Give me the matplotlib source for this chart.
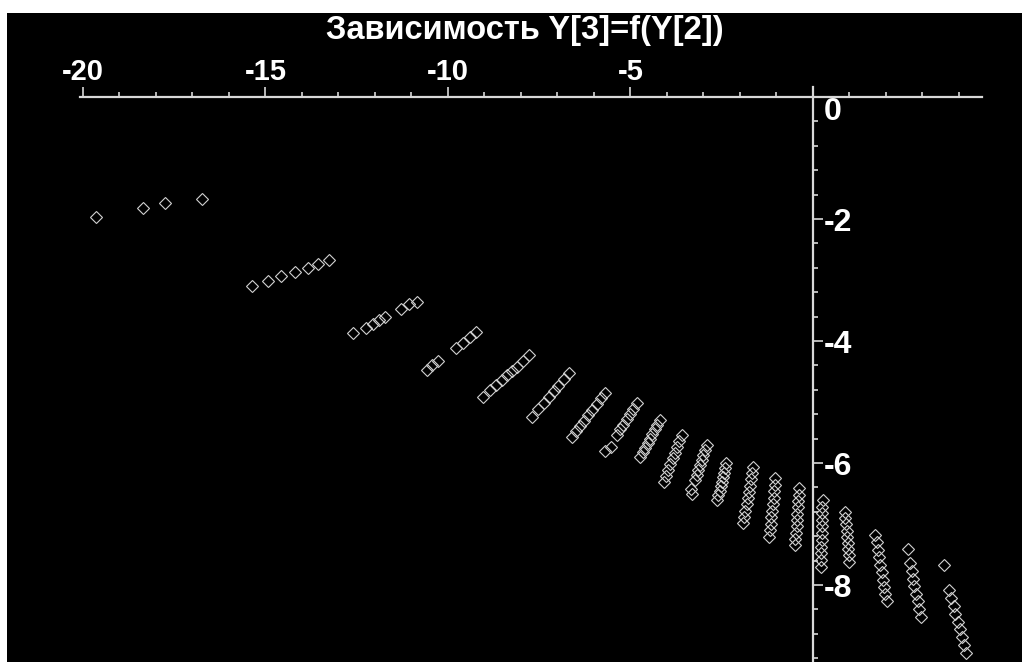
import matplotlib.pyplot as plt
from matplotlib.patches import Rectangle
from matplotlib.ticker import MultipleLocator, FixedLocator

# шрифт: жирный Liberation Sans, запасной DejaVu
plt.rcParams['font.family'] = ['Liberation Sans', 'DejaVu Sans']

title = 'Зависимость Y[3]=f(Y[2])'

# точки Y[2] (ось x) и Y[3] (ось y), по "полоскам" слева направо
y2 = [-19.65, -18.35, -17.76, -16.75,
      -15.37, -14.93, -14.57, -14.20, -13.84, -13.55, -13.25,
      -12.61, -12.25, -12.06, -11.88, -11.73, -11.29, -11.08, -10.84,
      -10.58, -10.44, -10.27, -9.78, -9.58, -9.40, -9.23,
      -9.03, -8.85, -8.68, -8.53, -8.38, -8.25, -8.12, -7.95, -7.77,
      -7.71, -7.53, -7.37, -7.22, -7.10, -6.98, -6.82, -6.68,
      -6.61, -6.49, -6.38, -6.27, -6.16, -6.05, -5.93, -5.81, -5.70,
      -5.70, -5.52, -5.38, -5.29, -5.20, -5.10, -5.01, -4.92, -4.83,
      -4.74, -4.67, -4.60, -4.53, -4.47, -4.40, -4.33, -4.26, -4.19,
      -4.09, -4.03, -3.97, -3.91, -3.84, -3.78, -3.72, -3.66, -3.60,
      -3.33, -3.31, -3.23, -3.19, -3.14, -3.10, -3.05, -3.01, -2.96, -2.91,
      -2.62, -2.59, -2.56, -2.53, -2.49, -2.46, -2.43, -2.40, -2.37,
      -1.91, -1.88, -1.85, -1.82, -1.79, -1.76, -1.73, -1.70, -1.67, -1.64,
      -1.20, -1.18, -1.16, -1.14, -1.12, -1.10, -1.08, -1.07, -1.05, -1.04,
      -0.49, -0.48, -0.47, -0.45, -0.44, -0.43, -0.42, -0.41, -0.39, -0.38,
      0.27, 0.26, 0.26, 0.25, 0.25, 0.24, 0.24, 0.23, 0.23, 0.22, 0.22,
      0.88, 0.89, 0.91, 0.92, 0.94, 0.95, 0.96, 0.98, 0.99,
      1.70, 1.74, 1.77, 1.81, 1.84, 1.88, 1.91, 1.95, 1.98, 2.02,
      2.59, 2.66, 2.70, 2.74, 2.78, 2.83, 2.87, 2.91, 2.95,
      3.60, 3.73, 3.79, 3.85, 3.90, 3.96, 4.02, 4.07, 4.13, 4.19]
y3 = [-1.97, -1.82, -1.74, -1.67,
      -3.10, -3.01, -2.94, -2.87, -2.80, -2.73, -2.68,
      -3.87, -3.78, -3.72, -3.66, -3.61, -3.48, -3.39, -3.36,
      -4.47, -4.39, -4.32, -4.11, -4.03, -3.94, -3.86,
      -4.91, -4.81, -4.72, -4.64, -4.56, -4.49, -4.42, -4.33, -4.23,
      -5.24, -5.12, -5.01, -4.91, -4.82, -4.74, -4.63, -4.53,
      -5.57, -5.48, -5.39, -5.31, -5.22, -5.13, -5.03, -4.94, -4.86,
      -5.81, -5.73, -5.54, -5.45, -5.37, -5.28, -5.19, -5.11, -5.02,
      -5.90, -5.82, -5.75, -5.67, -5.60, -5.52, -5.45, -5.37, -5.30,
      -6.31, -6.21, -6.11, -6.02, -5.92, -5.83, -5.73, -5.64, -5.54,
      -6.43, -6.51, -6.28, -6.20, -6.11, -6.03, -5.95, -5.87, -5.79, -5.70,
      -6.61, -6.53, -6.46, -6.38, -6.31, -6.23, -6.16, -6.08, -6.00,
      -6.99, -6.89, -6.78, -6.68, -6.58, -6.47, -6.37, -6.27, -6.16, -6.06,
      -7.21, -7.10, -7.00, -6.89, -6.78, -6.68, -6.57, -6.46, -6.36, -6.25,
      -7.34, -7.24, -7.14, -7.03, -6.93, -6.83, -6.72, -6.62, -6.52, -6.41,
      -6.61, -6.72, -6.82, -6.93, -7.04, -7.15, -7.26, -7.37, -7.48, -7.59, -7.70,
      -6.80, -6.90, -7.00, -7.11, -7.21, -7.31, -7.41, -7.51, -7.62,
      -7.18, -7.30, -7.42, -7.54, -7.67, -7.79, -7.91, -8.03, -8.15, -8.27,
      -7.41, -7.64, -7.77, -7.90, -8.02, -8.14, -8.27, -8.40, -8.52,
      -7.67, -8.08, -8.21, -8.34, -8.47, -8.60, -8.72, -8.85, -8.98, -9.11]

x_ticks = [-20, -15, -10, -5, 0]
x_labels = ['-20', '-15', '-10', '-5', '']
y_ticks = [0, -2, -4, -6, -8]
y_labels = ['0', '-2', '-4', '-6', '-8']

W, H = 1022, 662
fig = plt.figure(figsize=(W / 100, H / 100), dpi=100, facecolor='white')
# черный фон с белой полоской сверху и слева
fig.add_artist(Rectangle((7 / W, 0), 1, (H - 13) / H, transform=fig.transFigure,
                         facecolor='black', edgecolor='none', zorder=-10))

ax = fig.add_axes([80 / W, 0, 902 / W, 575 / H])
ax.set_facecolor('black')
ax.set_xlim(-20.08, 4.63)
ax.set_ylim(-9.262, 0.164)

# оси проходят через ноль
ax.spines['left'].set_visible(False)
ax.spines['bottom'].set_visible(False)
ax.spines['top'].set_position(('data', 0))
ax.spines['right'].set_position(('data', 0))
for s in ['top', 'right']:
    ax.spines[s].set_color('#d8d8d8')
    ax.spines[s].set_linewidth(1.6)
ax.xaxis.tick_top()
ax.yaxis.tick_right()

ax.xaxis.set_major_locator(FixedLocator(x_ticks))
ax.set_xticklabels(x_labels)
ax.yaxis.set_major_locator(FixedLocator(y_ticks))
ax.set_yticklabels(y_labels)
ax.xaxis.set_minor_locator(MultipleLocator(1))
ax.yaxis.set_minor_locator(MultipleLocator(0.4))

ax.tick_params(axis='both', which='both', direction='out', color='#d8d8d8',
               labelcolor='white')
ax.tick_params(axis='both', which='major', length=7, width=1.2)
ax.tick_params(axis='both', which='minor', length=3.5, width=1.2)
ax.tick_params(axis='x', which='major', pad=1, labelsize=21)
ax.tick_params(axis='y', which='major', pad=1, labelsize=23)
for lab in ax.get_xticklabels() + ax.get_yticklabels():
    lab.set_fontweight('bold')
ax.get_yticklabels()[0].set_verticalalignment('top')

ax.plot(y2, y3, 'D', ms=6.5, mfc='none', mec='#d0d0d0', mew=0.8, clip_on=False)

fig.text(525 / W, 1 - 31 / H, title, ha='center', va='center', color='white',
         fontsize=23.5, fontweight='bold')

fig.savefig('out.png', dpi=100, facecolor=fig.get_facecolor())
